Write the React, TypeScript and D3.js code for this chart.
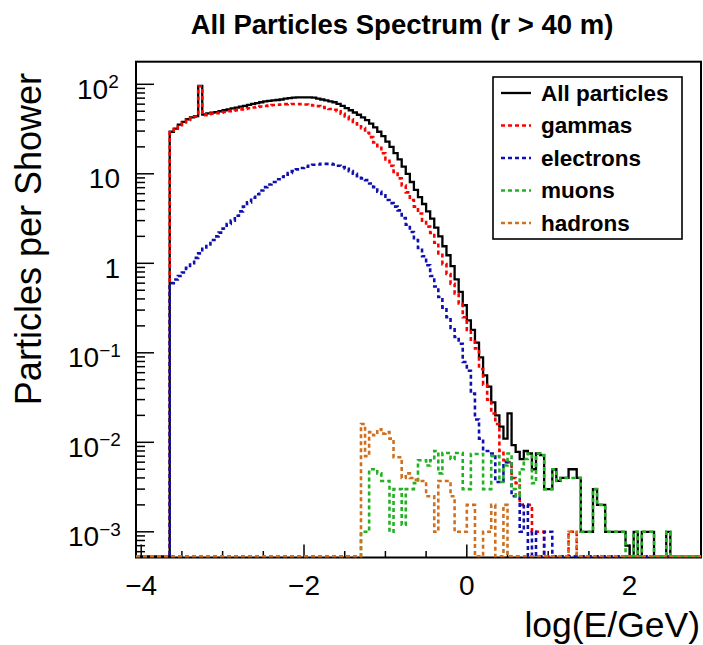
import React from 'react';
import * as d3 from 'd3';

// Histogram binning (log10(E/GeV))
const binStart = -3.65;
const binWidth = 0.05;

const allParticles = [
  29.5, 32, 35.5, 38, 40.7, 42.6, 44, 96, 46, 47.3,
  48.2, 49, 50, 51.3, 52.5, 53.7, 55, 56.2, 57.5, 58.9,
  60.3, 61.7, 63, 64.5, 65.3, 66, 66.8, 67.6, 69.2, 70,
  70.8, 71.3, 71.6, 71.6, 71.3, 70.8, 69.2, 67.6, 66, 64.5,
  63, 60.3, 57.5, 54.3, 51.3, 48.4, 45.7, 42.7, 39.8, 36.3,
  33.1, 29.5, 26.3, 22.9, 20, 17, 14.5, 12, 10, 8.1,
  6.6, 5.5, 4.6, 3.8, 3.16, 2.5, 2.0, 1.55, 1.23, 0.93,
  0.66, 0.48, 0.34, 0.23, 0.18, 0.13, 0.089, 0.056, 0.042, 0.028,
  0.020, 0.015, 0.011, 0.021, 0.0093, 0.0078, 0.0065, 0.008, 0.0075, 0.005,
  0.0075, 0.0072, 0.003, 0.003, 0.005, 0.0037, 0.004, 0.004, 0.005, 0.005,
  0.004, 0.001, 0.001, 0.001, 0.003, 0.002, 0.002, 0.001, 0.001, 0.001,
  0.001, 0.001, 0.0007, 0, 0.001, 0, 0.001, 0.001, 0.001, 0,
  0, 0, 0.001, 0,
];

const gammas = [
  29, 31.5, 35, 37.5, 40, 42, 43.5, 95, 45.2, 46.3,
  47, 47.5, 48.3, 49, 50, 50.8, 51.5, 52.5, 53.2, 54,
  55, 55.8, 56.5, 57.3, 58, 58.6, 59, 59.5, 60, 60.2,
  60.3, 60.2, 60, 59.5, 58.8, 58, 57, 55.8, 54.5, 53,
  51.9, 50, 46.8, 43.7, 40.7, 38, 35.5, 32.4, 28.8, 25.7,
  22.4, 19.5, 17, 14.5, 12.3, 10.5, 8.9, 7.4, 6.2, 5.1,
  4.3, 3.6, 3.0, 2.57, 2.19, 1.7, 1.29, 0.98, 0.76, 0.59,
  0.46, 0.355, 0.25, 0.18, 0.14, 0.112, 0.066, 0.044, 0.030, 0.021,
  0.016, 0.008, 0.0063, 0.006, 0.004, 0.0035, 0.002, 0.002, 0.002, 0.001,
  0.001, 0.001, 0, 0, 0, 0, 0, 0, 0.001, 0.001,
];

const electrons = [
  0.60, 0.66, 0.72, 0.79, 0.89, 1.0, 1.15, 1.29, 1.45, 1.62,
  1.82, 2.0, 2.2, 2.45, 2.75, 3.0, 3.4, 3.8, 4.3, 4.8,
  5.4, 5.9, 6.5, 7.1, 7.6, 8.1, 8.7, 9.2, 9.8, 10.2,
  10.7, 11.2, 11.6, 12.0, 12.3, 12.6, 12.7, 12.9, 12.9, 12.9,
  12.7, 12.3, 11.9, 11.4, 10.7, 10.0, 9.4, 8.9, 8.5, 7.8,
  7.1, 6.3, 5.75, 5.1, 4.7, 4.3, 3.9, 3.2, 2.7, 2.24,
  1.82, 1.48, 1.2, 0.95, 0.72, 0.55, 0.42, 0.32, 0.25, 0.19,
  0.15, 0.126, 0.079, 0.063, 0.035, 0.018, 0.011, 0.008, 0.008, 0.0075,
  0.0036, 0.0036, 0.006, 0.006, 0.0025, 0.0025, 0.001, 0.002, 0, 0.001,
  0, 0, 0.001, 0.001,
];

const muonsStart = -1.3;
const muons = [
  0.001, 0.001, 0.005, 0.005, 0.0045, 0.0037, 0.0037, 0.001, 0.003, 0.003,
  0.0012, 0.003, 0.003, 0.0035, 0.0063, 0.0063, 0.0055, 0.0063, 0.008, 0.0045,
  0.0076, 0.0076, 0.0065, 0.0076, 0.0076, 0.003, 0.003, 0.0074, 0.0074, 0.0074,
  0.003, 0.003, 0.007, 0.007, 0.0036, 0.0055, 0.0075, 0.003, 0.0025, 0.005,
  0.0065, 0.0075, 0.0035, 0.0075, 0.0072, 0.003, 0.003, 0.005, 0.0037, 0.004,
  0.004, 0.004, 0.004, 0.004, 0.001, 0.001, 0.001, 0.003, 0.002, 0.002,
  0.001, 0.001, 0.001, 0.001, 0.001, 0, 0, 0.001, 0, 0.001,
  0.001, 0.001, 0, 0, 0, 0.001,
];

const hadronsStart = -1.3;
const hadrons = [
  0.016, 0.007, 0.013, 0.012, 0.014, 0.0125, 0.013, 0.011, 0.0068, 0.0068,
  0.004, 0.0045, 0.004, 0.0038, 0.0037, 0.0037, 0.0025, 0.0025, 0.001, 0.0037,
  0.0037, 0.0037, 0.0025, 0.001, 0.001, 0.001, 0.002, 0.002, 0, 0,
  0.001, 0.001, 0.002, 0, 0, 0.002, 0, 0, 0, 0,
  0, 0, 0, 0, 0, 0, 0, 0, 0, 0,
  0, 0.001, 0.001,
];

const xTicks = [-4, -2, 0, 2];
const xMinorStep = 0.5;
const yTicks = [1e-3, 1e-2, 1e-1, 1, 10, 100];

const seriesNames = ['All particles', 'gammas', 'electrons', 'muons', 'hadrons'];
const seriesColors = ['#000000', '#ff0000', '#1010b0', '#22b122', '#d0701e'];

const FONT = '"Liberation Sans", Arial, Helvetica, sans-serif';

export default function App() {
  const W = 703;
  const H = 645;
  const left = 136;
  const right = 701;
  const top = 61.7;
  const bottom = 557.5;

  const x = d3.scaleLinear().domain([-4.064, 2.877]).range([left, right]);
  const y = d3
    .scaleLog()
    .domain([Math.pow(10, -3.287), Math.pow(10, 2.2525)])
    .range([bottom, top]);

  const zeroY = bottom - 1.2;
  const yv = (v: number) => (v > 0 ? Math.min(zeroY, y(v)) : zeroY);

  const line = d3.line<[number, number]>().curve(d3.curveStepAfter);
  const histPath = (start: number, values: number[]) => {
    const pts: [number, number][] = [];
    pts.push([left, zeroY]);
    values.forEach((v, i) => pts.push([x(start + i * binWidth), yv(v)]));
    pts.push([x(start + values.length * binWidth), zeroY]);
    pts.push([right, zeroY]);
    return line(pts) || '';
  };

  const series = [
    { start: binStart, values: allParticles },
    { start: binStart, values: gammas },
    { start: binStart, values: electrons },
    { start: muonsStart, values: muons },
    { start: hadronsStart, values: hadrons },
  ];

  // minor ticks
  const xMinor: number[] = [];
  const [xd0, xd1] = x.domain();
  for (let v = Math.ceil(xd0 / xMinorStep) * xMinorStep; v <= xd1; v += xMinorStep) {
    const r = Math.round(v * 100) / 100;
    if (!xTicks.includes(r)) xMinor.push(r);
  }
  const yMinor: number[] = [];
  const [yd0, yd1] = y.domain();
  for (let e = -4; e <= 2; e++) {
    for (let m = 2; m <= 9; m++) {
      const v = m * Math.pow(10, e);
      if (v >= yd0 && v <= yd1) yMinor.push(v);
    }
  }

  const yLabel = (v: number) => {
    const e = Math.round(Math.log10(v));
    if (e === 0) return { base: '1', exp: '' };
    if (e === 1) return { base: '10', exp: '' };
    return { base: '10', exp: e < 0 ? '\u2212' + String(-e) : String(e) };
  };

  const legendX = 493;
  const legendY = 77;
  const legendW = 189;
  const legendH = 162;
  const legendRow = 32.5;

  return (
    <svg
      width={W}
      height={H}
      viewBox={`0 0 ${W} ${H}`}
      style={{ position: 'absolute', left: 0, top: 0, background: '#fff' }}
      fontFamily={FONT}
    >
      <rect x={0} y={0} width={W} height={H} fill="#fff" />
      <defs>
        <clipPath id="frameClip">
          <rect x={left} y={top} width={right - left} height={bottom - top} />
        </clipPath>
      </defs>

      {/* Title */}
      <text x={402} y={34} textAnchor="middle" fontSize={27.5} fontWeight="bold">
        All Particles Spectrum (r &gt; 40 m)
      </text>

      {/* Frame */}
      <rect
        x={left}
        y={top}
        width={right - left}
        height={bottom - top}
        fill="none"
        stroke="#000"
        strokeWidth={2}
      />

      {/* X ticks */}
      {xTicks.map((t) => (
        <line key={'xt' + t} x1={x(t)} x2={x(t)} y1={bottom} y2={bottom - 13} stroke="#000" strokeWidth={1.5} />
      ))}
      {xMinor.map((t) => (
        <line key={'xm' + t} x1={x(t)} x2={x(t)} y1={bottom} y2={bottom - 6.5} stroke="#000" strokeWidth={1.5} />
      ))}
      {xTicks.map((t) => (
        <text key={'xl' + t} x={x(t)} y={595} textAnchor="middle" fontSize={28}>
          {t < 0 ? '\u2212' + String(-t) : String(t)}
        </text>
      ))}

      {/* Y ticks */}
      {yTicks.map((t) => (
        <line key={'yt' + t} x1={left} x2={left + 18} y1={y(t)} y2={y(t)} stroke="#000" strokeWidth={1.5} />
      ))}
      {yMinor.map((t, i) => (
        <line key={'ym' + i} x1={left} x2={left + 9} y1={y(t)} y2={y(t)} stroke="#000" strokeWidth={1.5} />
      ))}
      {yTicks.map((t) => {
        const lb = yLabel(t);
        const ty = y(t) + 14.5;
        if (!lb.exp) {
          return (
            <text key={'yl' + t} x={left - 16} y={ty} textAnchor="end" fontSize={28}>
              {lb.base}
            </text>
          );
        }
        const neg = lb.exp.startsWith('\u2212');
        return (
          <text key={'yl' + t} x={left - (neg ? 68 : 59)} y={ty} fontSize={28}>
            {lb.base}
            <tspan dy={-10.5} fontSize={19}>
              {lb.exp}
            </tspan>
          </text>
        );
      })}

      {/* Histograms */}
      <g clipPath="url(#frameClip)">
        {series.map((s, i) => (
          <path
            key={'h' + i}
            d={histPath(s.start, s.values)}
            fill="none"
            stroke={seriesColors[i]}
            strokeWidth={i === 0 ? 2.3 : 2.6}
            strokeDasharray={i === 0 ? undefined : '4 3'}
            strokeLinejoin="miter"
          />
        ))}
      </g>

      {/* Axis titles */}
      <text x={700} y={637} textAnchor="end" fontSize={35.5}>
        log(E/GeV)
      </text>
      <text transform="translate(41,73) rotate(-90)" textAnchor="end" fontSize={36}>
        Particles per Shower
      </text>

      {/* Legend */}
      <rect x={legendX} y={legendY} width={legendW} height={legendH} fill="#fff" stroke="#000" strokeWidth={1.6} />
      {seriesNames.map((n, i) => {
        const cy = legendY + 16 + i * legendRow;
        return (
          <g key={'lg' + i}>
            <line
              x1={legendX + 8}
              x2={legendX + 38}
              y1={cy}
              y2={cy}
              stroke={seriesColors[i]}
              strokeWidth={i === 0 ? 2.3 : 2.6}
              strokeDasharray={i === 0 ? undefined : '4 3'}
            />
            <text x={legendX + 48} y={cy + 7.5} fontSize={22.5} fontWeight="bold">
              {n}
            </text>
          </g>
        );
      })}
    </svg>
  );
}
